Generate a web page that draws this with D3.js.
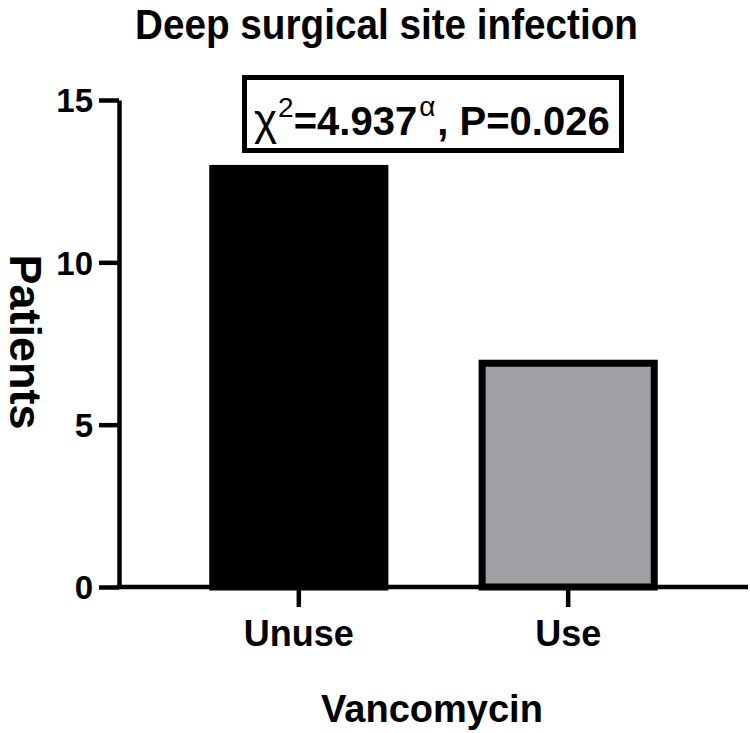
<!DOCTYPE html>
<html>
<head>
<meta charset="utf-8">
<script src="https://cdn.jsdelivr.net/npm/d3@7"></script>
<style>
  body { margin: 0; background: #fff; }
  svg { display: block; }
  text { font-family: "Liberation Sans", Arial, sans-serif; fill: #000; }
</style>
</head>
<body>
<svg id="chart" width="750" height="733"></svg>
<script>
// ---- data ----
const categories = ["Unuse", "Use"];
const patients = [13, 7];
const yTicks = [0, 5, 10, 15];
const titleText = "Deep surgical site infection";
const yLabel = "Patients";
const xLabel = "Vancomycin";
const chiValue = "4.937";
const pValue = "0.026";

// ---- styling ----
const barFills = ["#000000", "#a09fa4"];
const svg = d3.select("#chart");
const x0 = 119, x1 = 748, yBottom = 587, yTop = 100;
const axisW = 4.5;

const x = d3.scaleBand().domain(categories).range([x0, x1])
  .paddingInner(0.335).paddingOuter(0.335);
const y = d3.scaleLinear().domain([0, 15]).range([yBottom, yTop]);

// bars
const sw = 7;
svg.append("g").selectAll("rect").data(categories).join("rect")
  .attr("x", d => x(d) + sw / 2)
  .attr("width", x.bandwidth() - sw)
  .attr("y", (d, i) => y(patients[i]) + sw / 2)
  .attr("height", (d, i) => y(0) - y(patients[i]) - sw / 2)
  .attr("fill", (d, i) => barFills[i])
  .attr("stroke", "#000")
  .attr("stroke-width", sw);

// y axis
const yAxis = svg.append("g").attr("transform", `translate(${x0},0)`)
  .call(d3.axisLeft(y).tickValues(yTicks).tickSize(20).tickSizeOuter(0).tickPadding(6));
yAxis.select(".domain").attr("stroke", "#000").attr("stroke-width", axisW);
yAxis.selectAll(".tick line").attr("stroke", "#000").attr("stroke-width", axisW);
yAxis.selectAll(".tick text")
  .style("font-family", "'Liberation Sans', Arial, sans-serif")
  .style("font-weight", "bold").style("font-size", "33px").attr("dy", "0.36em");

// x axis
const xAxis = svg.append("g").attr("transform", `translate(0,${yBottom})`)
  .call(d3.axisBottom(x).tickSize(20).tickSizeOuter(0).tickPadding(13));
xAxis.select(".domain").attr("stroke", "#000").attr("stroke-width", axisW)
  .attr("d", `M${x0 - axisW / 2},0H${x1}`);
xAxis.selectAll(".tick line").attr("stroke", "#000").attr("stroke-width", axisW);
xAxis.selectAll(".tick text")
  .style("font-family", "'Liberation Sans', Arial, sans-serif")
  .style("font-weight", "bold").style("font-size", "36px");

// title
svg.append("text")
  .attr("x", 135).attr("y", 39)
  .attr("textLength", 503).attr("lengthAdjust", "spacingAndGlyphs")
  .style("font-weight", "bold").style("font-size", "43px")
  .text(titleText);

// y label (reads top to bottom)
svg.append("text")
  .attr("transform", `translate(10,342) rotate(90)`)
  .attr("text-anchor", "middle")
  .style("font-weight", "bold").style("font-size", "45px")
  .text(yLabel);

// x label
svg.append("text")
  .attr("x", 432).attr("y", 722)
  .attr("text-anchor", "middle")
  .style("font-weight", "bold").style("font-size", "38px")
  .text(xLabel);

// annotation box
svg.append("rect")
  .attr("x", 244.5).attr("y", 77.5).attr("width", 377).attr("height", 73)
  .attr("fill", "#fff").attr("stroke", "#000").attr("stroke-width", 5);

const ann = svg.append("text").attr("x", 254).attr("y", 135)
  .style("font-size", "39px");
ann.append("tspan").style("font-weight", "normal").style("font-size", "44px").text("χ");
ann.append("tspan").attr("dy", -18).attr("dx", 1).style("font-size", "28px").text("2");
ann.append("tspan").attr("dy", 18).style("font-weight", "bold").style("font-size", "40px").text("=" + chiValue);
ann.append("tspan").attr("dy", -19).attr("dx", 2).style("font-size", "28px").text("α");
ann.append("tspan").attr("dy", 19).attr("dx", 2).style("font-weight", "bold").style("font-size", "40px").text(", P=" + pValue);
</script>
</body>
</html>
